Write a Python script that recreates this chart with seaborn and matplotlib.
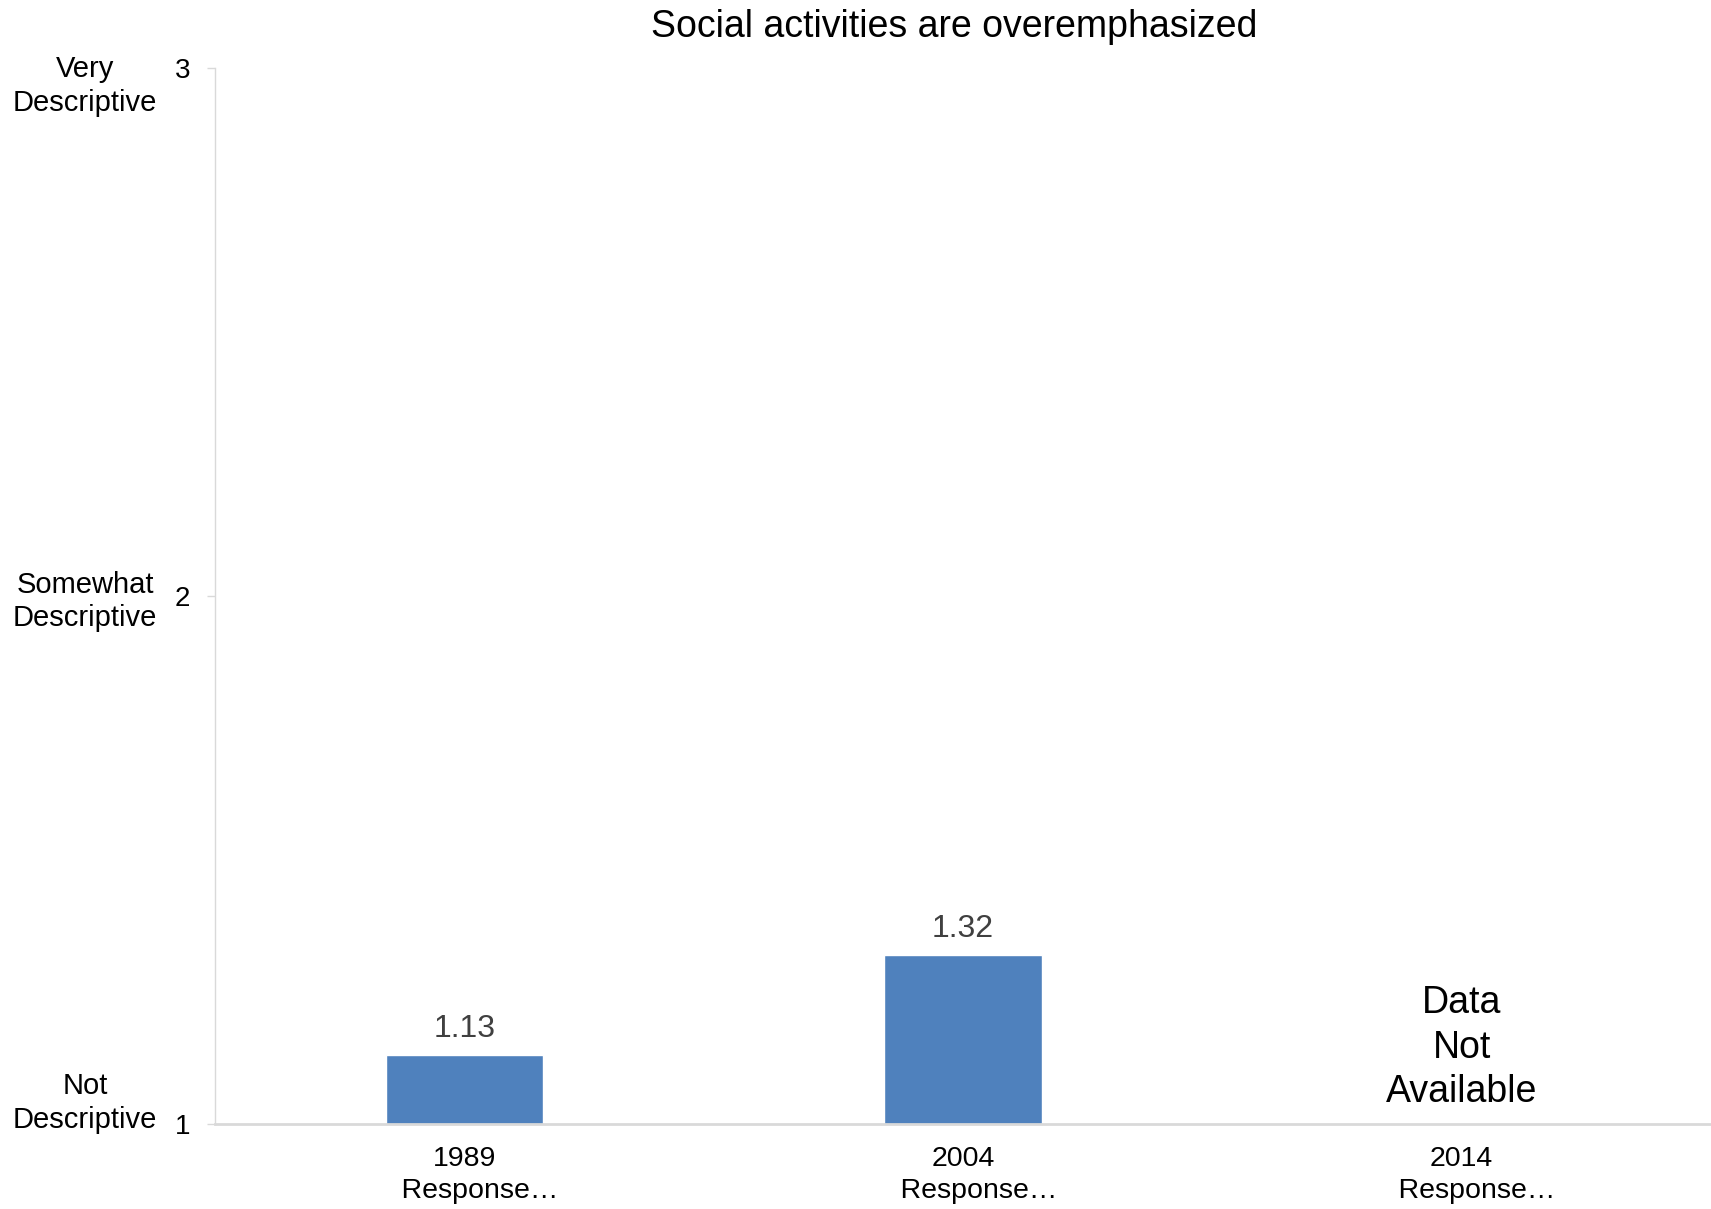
import matplotlib

matplotlib.use("Agg")
import matplotlib.pyplot as plt
import numpy as np
import pandas as pd
import seaborn as sns


# second line sits a little right of the year in the original (truncated label)
categories = ["1989\n    Response…", "2004\n    Response…", "2014\n    Response…"]
values = [1.13, 1.32, np.nan]
scale_ticks = [1, 2, 3]
scale_names = ["Not\nDescriptive", "Somewhat\nDescriptive", "Very\nDescriptive"]
title = "Social activities are overemphasized"
missing_text = "Data\nNot\nAvailable"

BAR_COLOR = "#4F81BD"
AXIS_GRAY = "#D9D9D9"

sns.set_style("white")
plt.rcParams["font.family"] = ["Liberation Sans", "DejaVu Sans"]

df = pd.DataFrame({"year": categories, "score": values})

W, H = 1711, 1209
fig = plt.figure(figsize=(W / 100, H / 100), dpi=100)
ax = fig.add_axes([215 / W, 1 - 1124 / H, (W - 215) / W, (1124 - 68) / H])

sns.barplot(
    data=df.dropna(),
    x="year",
    y="score",
    order=categories,
    color=BAR_COLOR,
    width=0.315,
    saturation=1,
    ax=ax,
)

ax.set_xlim(-0.5, 2.5)
ax.set_ylim(1, 3)
ax.set_yticks(scale_ticks)
ax.set_xlabel("")
ax.set_ylabel("")

for side in ["top", "right"]:
    ax.spines[side].set_visible(False)
ax.spines["left"].set_color(AXIS_GRAY)
ax.spines["left"].set_linewidth(1)
ax.spines["bottom"].set_color(AXIS_GRAY)
ax.spines["bottom"].set_linewidth(2)

ax.tick_params(axis="y", direction="out", length=6, width=1, color=AXIS_GRAY,
               pad=12, labelsize=20, labelcolor="black", left=True)
ax.tick_params(axis="x", length=0, pad=15.5, labelsize=20.5, labelcolor="black")
for lbl in ax.get_xticklabels():
    lbl.set_linespacing(1.34)

# value labels above bars
for cont in ax.containers:
    ax.bar_label(cont, fmt="%.2f", padding=8, fontsize=23, color="#404040")

# missing category note
for i, v in enumerate(values):
    if np.isnan(v):
        ax.annotate(missing_text, xy=(i, 1), xytext=(0, 10), textcoords="offset points",
                    ha="center", va="bottom", fontsize=27, color="black",
                    linespacing=1.3)

# descriptive names for the scale
offsets = {1: 15, 2: -4, 3: -13}
for tick, name in zip(scale_ticks, scale_names):
    ax.annotate(name, xy=(85 / W, tick), xycoords=("figure fraction", "data"),
                xytext=(0, offsets[tick]), textcoords="offset points",
                ha="center", va="center", fontsize=21, color="black",
                linespacing=1.25)

fig.text(954 / W, 1 - 27 / H, title, ha="center", va="center", fontsize=27, color="black")

fig.savefig("out.png", dpi=100)
